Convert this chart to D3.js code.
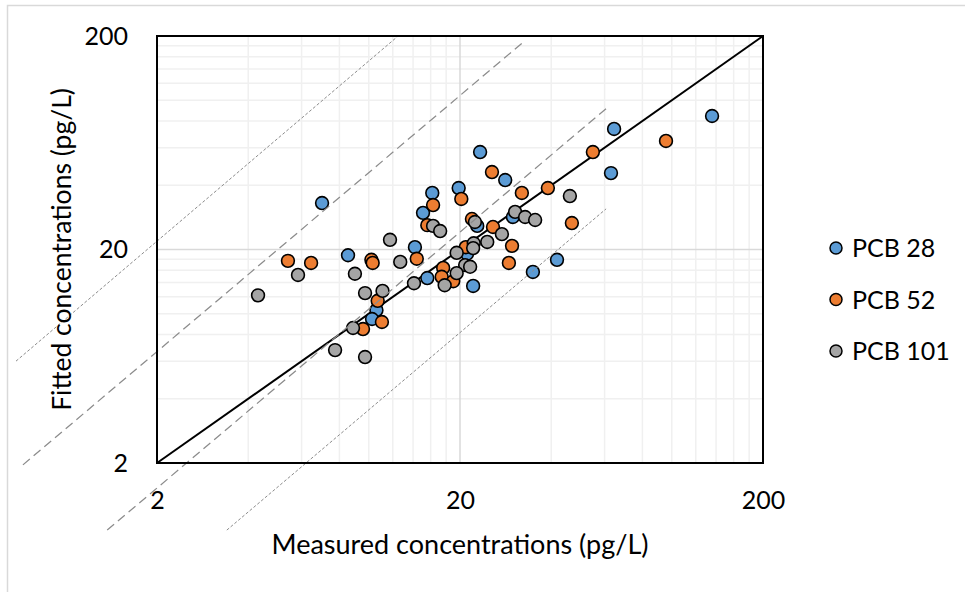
<!DOCTYPE html>
<html>
<head>
    <meta charset="utf-8">
    <title>Measured vs fitted PCB concentrations</title>
    <script src="https://d3js.org/d3.v7.min.js"></script>
    <style>
        body, html {
            margin: 0;
            background: #fff;
            overflow: hidden;
        }
        svg text {
            font-family: Lato, "Open Sans", sans-serif;
            fill: #000;
        }
    </style>
</head>
<body>
<div id="chart"></div>
<script>
    // [measured, fitted] pairs, pg/L
    const pcb28 = [
        [135.8, 84.4], [64.5, 73.4], [63.0, 45.6], [23.3, 57.2], [28.2, 42.3],
        [19.8, 38.8], [16.2, 36.8], [15.1, 29.7], [7.01, 33.0], [8.54, 18.8],
        [14.2, 20.5], [15.6, 14.7], [10.6, 10.4], [10.25, 9.45], [22.1, 13.5],
        [34.8, 15.7], [41.8, 17.9], [29.9, 28.4], [21.1, 19.1], [22.8, 25.8]
    ];
    const pcb52 = [
        [95.7, 64.5], [54.9, 57.2], [39.0, 38.8], [32.0, 36.8], [25.5, 46.1],
        [20.2, 34.5], [16.3, 32.3], [15.6, 26.0], [21.9, 27.8], [25.7, 25.5],
        [29.7, 20.8], [29.0, 17.3], [46.8, 26.6], [5.41, 17.7], [6.45, 17.3],
        [10.2, 17.9], [10.3, 17.3], [14.4, 18.1], [10.7, 11.5], [11.05, 9.15],
        [9.57, 8.48], [20.9, 20.5], [17.6, 16.4], [17.4, 14.9], [19.0, 14.2]
    ];
    const pcb101 = [
        [46.1, 35.6], [30.4, 30.0], [32.8, 28.4], [35.4, 27.5], [27.5, 23.6],
        [24.6, 21.7], [22.2, 21.4], [19.5, 19.3], [20.8, 16.9], [21.6, 16.6],
        [19.5, 15.5], [17.8, 13.6], [14.1, 13.9], [16.3, 25.8], [17.2, 24.4],
        [22.4, 26.9], [11.75, 22.2], [12.7, 17.5], [9.0, 15.4], [5.84, 15.2],
        [4.31, 12.2], [9.72, 12.5], [11.1, 12.8], [8.87, 8.58], [7.74, 6.76],
        [9.72, 6.27], [22.1, 20.3]
    ];
    const seriesNames = ["PCB 28", "PCB 52", "PCB 101"];
    const seriesColors = ["#5b9bd5", "#ed7d31", "#a5a5a5"];

    const tickValues = [2, 20, 200];
    const minorGrid = [4, 6, 8, 10, 12, 14, 16, 18, 40, 60, 80, 100, 120, 140, 160, 180];

    // guide lines drawn over the plot (endpoints in data units)
    const guideLines = [
        {from: [0.685, 6.0], to: [12.5, 200], dash: "3,2", width: 1},
        {from: [0.722, 1.96], to: [32.3, 187], dash: "9,5", width: 1.25},
        {from: [1.37, 0.97], to: [61.6, 93], dash: "9,5", width: 1.25},
        {from: [3.4, 0.97], to: [60.7, 31], dash: "3,2", width: 1}
    ];

    const width = 965, height = 592;
    const plotLeft = 157, plotRight = 763, plotTop = 36, plotBottom = 463;

    const svg = d3.select("#chart").append("svg")
        .attr("width", width)
        .attr("height", height);

    // outer chart frame
    svg.append("rect")
        .attr("x", 7.5).attr("y", 5.5)
        .attr("width", 1000).attr("height", 1000)
        .attr("fill", "none")
        .attr("stroke", "#d9d9d9")
        .attr("stroke-width", 1.5);

    const x = d3.scaleLog().domain([2, 200]).range([plotLeft, plotRight]);
    const y = d3.scaleLog().domain([2, 200]).range([plotBottom, plotTop]);

    // gridlines
    const grid = svg.append("g");
    grid.selectAll(".vminor").data(minorGrid).join("line")
        .attr("x1", d => x(d)).attr("x2", d => x(d))
        .attr("y1", plotTop).attr("y2", plotBottom)
        .attr("stroke", "#f0f0f0").attr("stroke-width", 1.5);
    grid.selectAll(".hminor").data(minorGrid).join("line")
        .attr("y1", d => y(d)).attr("y2", d => y(d))
        .attr("x1", plotLeft).attr("x2", plotRight)
        .attr("stroke", "#f0f0f0").attr("stroke-width", 1.5);
    grid.append("line")
        .attr("x1", x(20)).attr("x2", x(20)).attr("y1", plotTop).attr("y2", plotBottom)
        .attr("stroke", "#d9d9d9").attr("stroke-width", 1.5);
    grid.append("line")
        .attr("y1", y(20)).attr("y2", y(20)).attr("x1", plotLeft).attr("x2", plotRight)
        .attr("stroke", "#d9d9d9").attr("stroke-width", 1.5);

    // 1:1 line
    svg.append("line")
        .attr("x1", x(2)).attr("y1", y(2))
        .attr("x2", x(200)).attr("y2", y(200))
        .attr("stroke", "#000").attr("stroke-width", 2);

    // points
    [pcb28, pcb52, pcb101].forEach((data, i) => {
        svg.append("g").selectAll("circle").data(data).join("circle")
            .attr("cx", d => x(d[0]))
            .attr("cy", d => y(d[1]))
            .attr("r", 6.4)
            .attr("fill", seriesColors[i])
            .attr("stroke", "#000")
            .attr("stroke-width", 1.6);
    });

    // guide lines
    svg.append("g").selectAll("line").data(guideLines).join("line")
        .attr("x1", d => x(d.from[0])).attr("y1", d => y(d.from[1]))
        .attr("x2", d => x(d.to[0])).attr("y2", d => y(d.to[1]))
        .attr("stroke", "#8c8c8c")
        .attr("stroke-width", d => d.width)
        .attr("stroke-dasharray", d => d.dash);

    // plot border
    svg.append("rect")
        .attr("x", plotLeft).attr("y", plotTop)
        .attr("width", plotRight - plotLeft).attr("height", plotBottom - plotTop)
        .attr("fill", "none").attr("stroke", "#000").attr("stroke-width", 2);

    // axes (labels only)
    const xAxis = svg.append("g")
        .attr("transform", `translate(0,${plotBottom})`)
        .call(d3.axisBottom(x).tickValues(tickValues).tickFormat(d3.format("d")).tickSize(0).tickPadding(28));
    const yAxis = svg.append("g")
        .attr("transform", `translate(${plotLeft},0)`)
        .call(d3.axisLeft(y).tickValues(tickValues).tickFormat(d3.format("d")).tickSize(0).tickPadding(29));
    [xAxis, yAxis].forEach(a => {
        a.select(".domain").remove();
        a.selectAll("text").attr("font-size", 25).attr("font-family", "Lato, sans-serif").attr("fill", "#000");
    });

    // axis titles
    svg.append("text")
        .attr("x", (plotLeft + plotRight) / 2).attr("y", 554)
        .attr("text-anchor", "middle")
        .attr("font-size", 27)
        .text("Measured concentrations (pg/L)");
    svg.append("text")
        .attr("transform", `translate(71,${(plotTop + plotBottom) / 2}) rotate(-90)`)
        .attr("text-anchor", "middle")
        .attr("font-size", 26.5)
        .text("Fitted concentrations (pg/L)");

    // legend
    const legend = svg.append("g").selectAll("g").data(seriesNames).join("g")
        .attr("transform", (d, i) => `translate(836,${248 + i * 51.5})`);
    legend.append("circle")
        .attr("r", 6)
        .attr("fill", (d, i) => seriesColors[i])
        .attr("stroke", "#000").attr("stroke-width", 1.5);
    legend.append("text")
        .attr("x", 16).attr("y", 9)
        .attr("font-size", 25)
        .text(d => d);
</script>
</body>
</html>
